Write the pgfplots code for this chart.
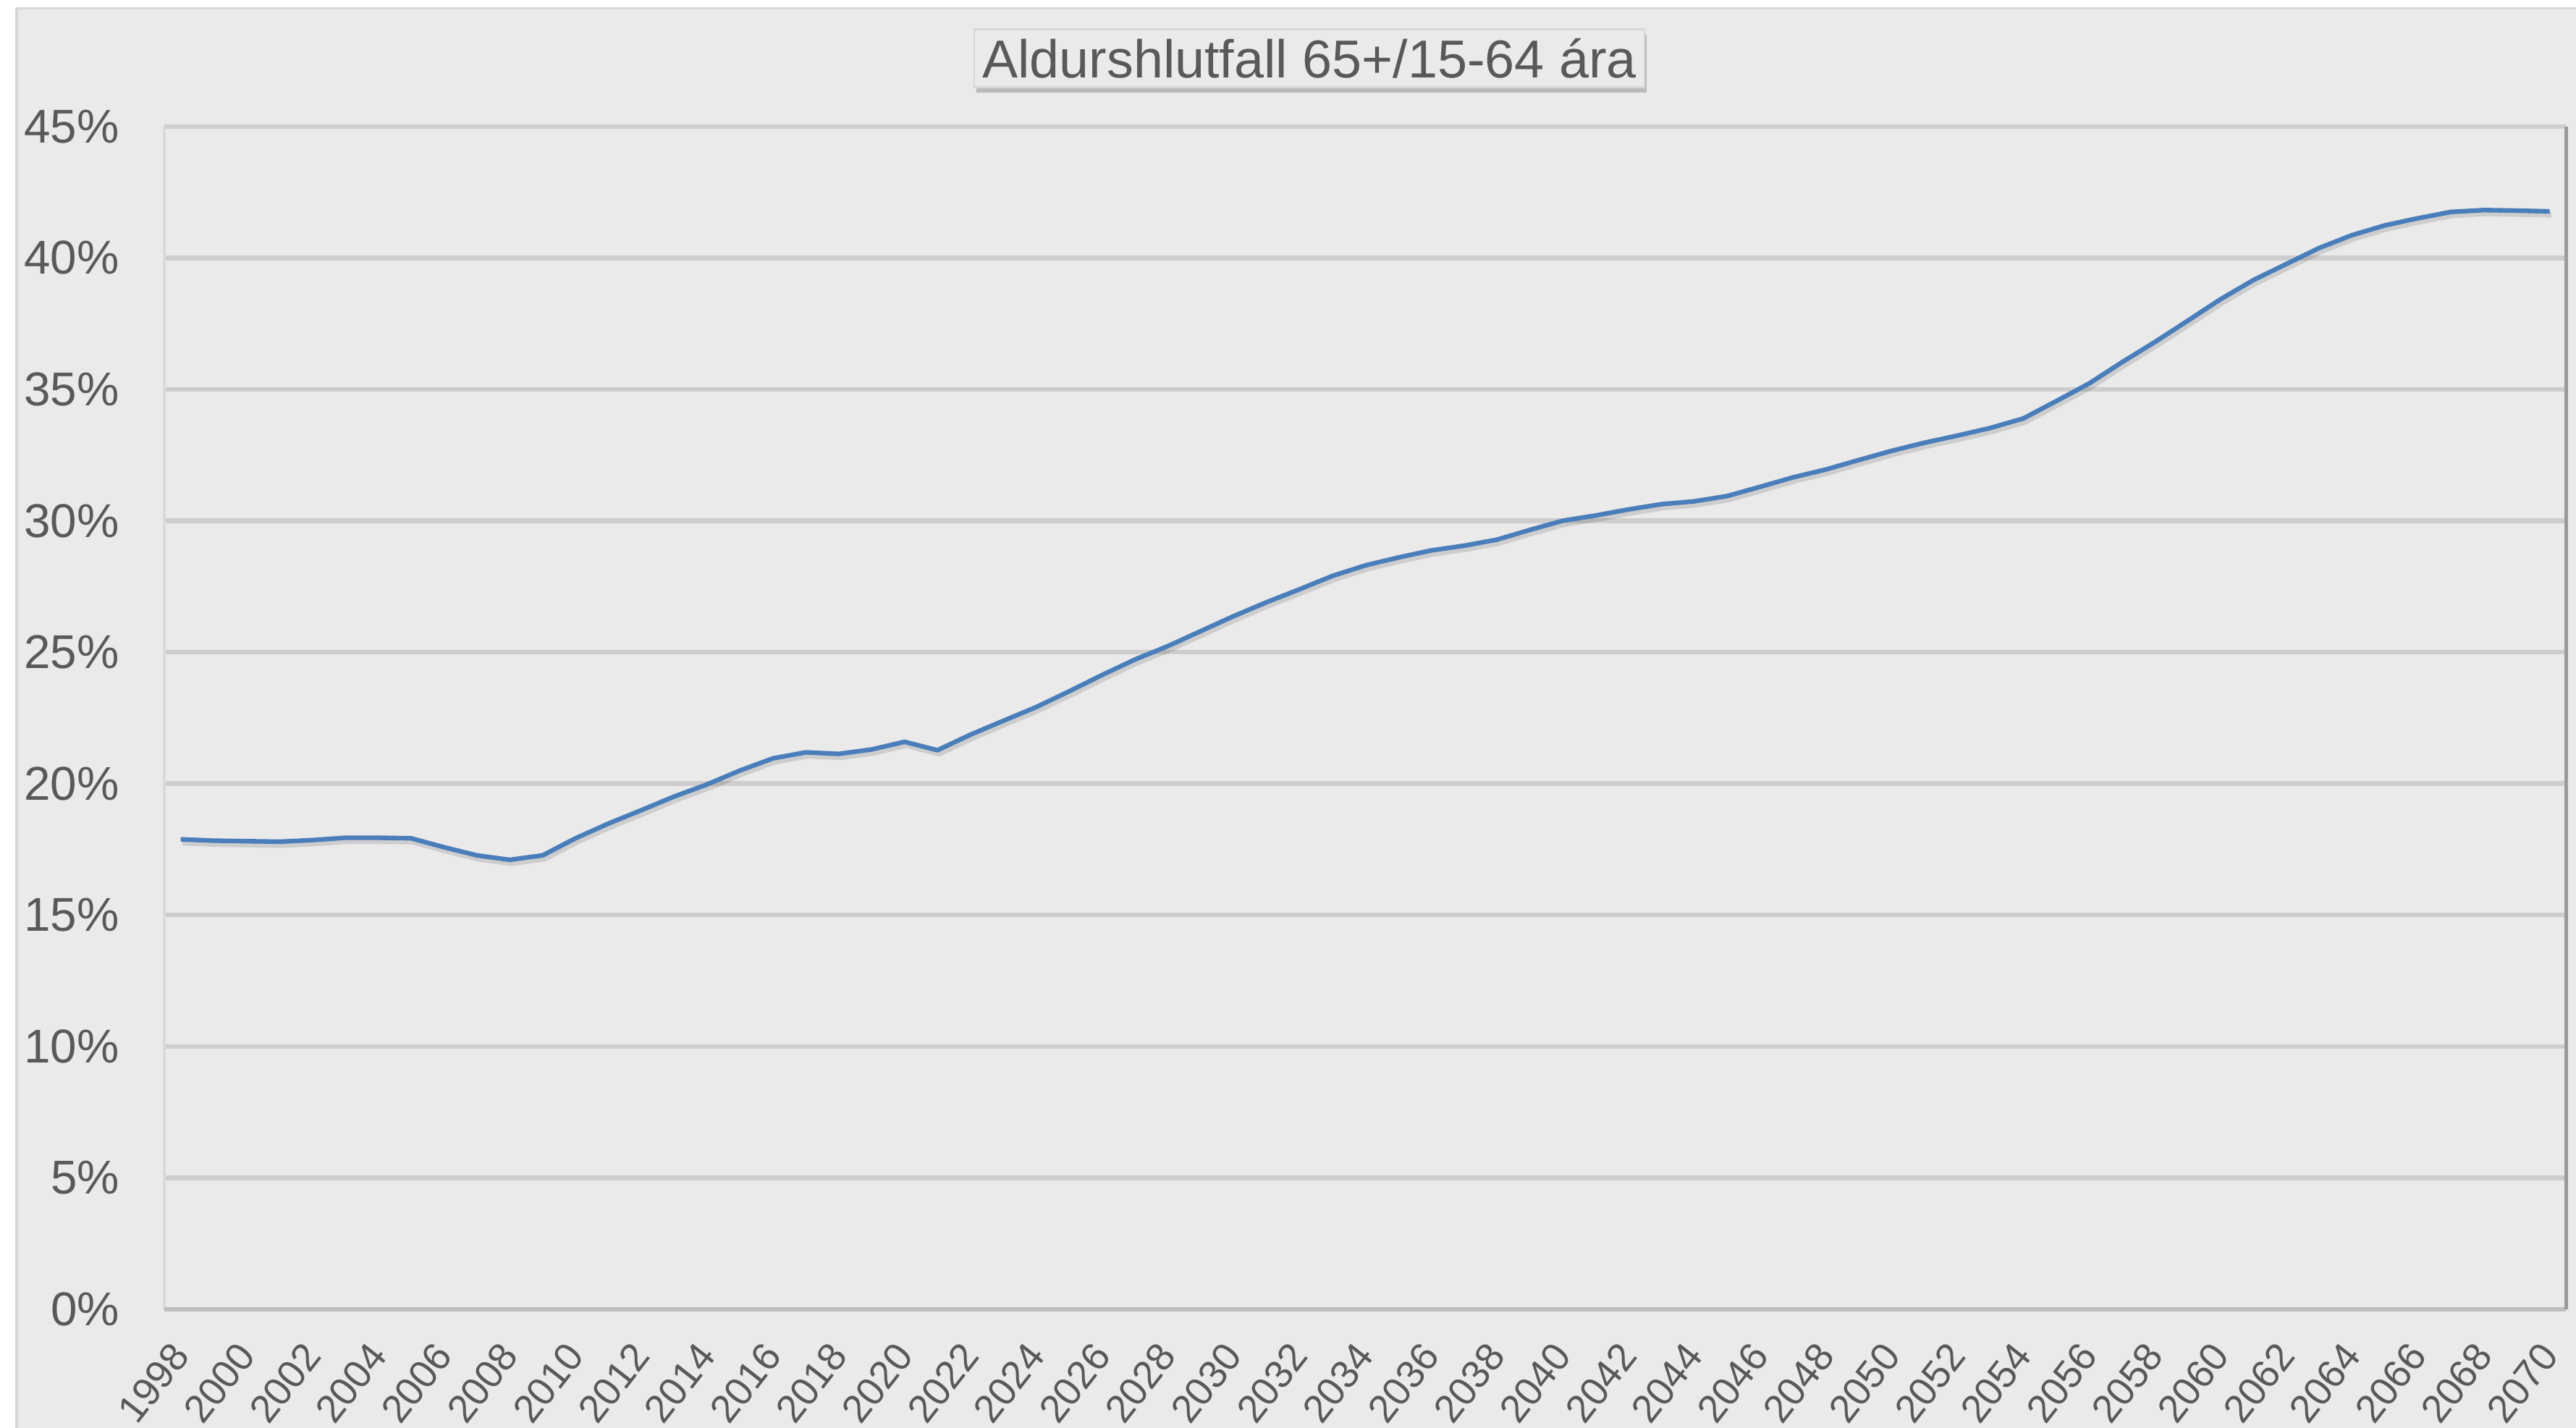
\documentclass[border=0pt]{standalone}
\usepackage{fontspec}
\setmainfont{Liberation Sans}
\usepackage{pgfplots}
\pgfplotsset{compat=1.18}
\usepackage{pgfplotstable}
\usetikzlibrary{shadows}
\definecolor{bg}{HTML}{EAEAEA}
\definecolor{edge}{HTML}{D6D6D6}
\definecolor{textgray}{HTML}{595959}
\definecolor{gridc}{HTML}{CDCDCD}
\definecolor{axisgray}{HTML}{BDBDBD}
\definecolor{rightgray}{HTML}{9A9A9A}
\definecolor{lineblue}{HTML}{4A7EBB}

\pgfplotstableread{
year val
1998 17.88
1999 17.83
2000 17.81
2001 17.79
2002 17.85
2003 17.94
2004 17.94
2005 17.92
2006 17.58
2007 17.27
2008 17.10
2009 17.27
2010 17.92
2011 18.48
2012 18.99
2013 19.51
2014 19.97
2015 20.50
2016 20.96
2017 21.19
2018 21.13
2019 21.30
2020 21.59
2021 21.27
2022 21.86
2023 22.39
2024 22.91
2025 23.51
2026 24.13
2027 24.72
2028 25.23
2029 25.80
2030 26.37
2031 26.90
2032 27.39
2033 27.90
2034 28.30
2035 28.60
2036 28.87
2037 29.05
2038 29.28
2039 29.65
2040 30.00
2041 30.20
2042 30.43
2043 30.63
2044 30.74
2045 30.94
2046 31.29
2047 31.65
2048 31.95
2049 32.31
2050 32.66
2051 32.97
2052 33.24
2053 33.53
2054 33.89
2055 34.55
2056 35.22
2057 36.03
2058 36.80
2059 37.61
2060 38.43
2061 39.16
2062 39.77
2063 40.38
2064 40.87
2065 41.24
2066 41.51
2067 41.75
2068 41.82
2069 41.80
2070 41.77
}\datatable

\begin{document}
\begin{tikzpicture}
\useasboundingbox (0,0) rectangle (784bp,434.5bp);
\fill[white] (0,0) rectangle (784bp,434.5bp);
\filldraw[fill=bg, draw=edge, line width=0.8bp] (5bp,-1bp) rectangle (785bp,432bp);
\begin{axis}[
  at={(50bp,36bp)}, anchor=south west,
  scale only axis, width=731bp, height=360bp,
  xmin=1997.5, xmax=2070.5, ymin=0, ymax=45,
  clip=false,
  axis line style={draw=none},
  tick style={draw=none},
  ytick={0,5,...,45},
  yticklabel={\pgfmathprintnumber{\tick}\%},
  xtick={1998,2000,...,2070},
  /pgf/number format/1000 sep={},
  /pgf/number format/assume math mode=true,
  ymajorgrids,
  major grid style={draw=gridc, line width=1.4bp},
  yticklabel style={font=\fontsize{14.5}{16}\selectfont, text=textgray, anchor=east, inner sep=0pt},
  yticklabel shift=13.5bp,
  xticklabel style={font=\fontsize{12}{14}\selectfont, text=textgray, xshift=0bp, rotate=52, anchor=east, inner sep=0pt},
  xticklabel shift=11.8bp,
]
\draw[color=edge!80!bg, line width=0.8bp] (rel axis cs:0,0) -- (rel axis cs:0,1);
\draw[color=axisgray, line width=1.2bp] (rel axis cs:0,0) -- (rel axis cs:1,0);
\draw[color=rightgray, line width=1bp] (rel axis cs:1,0) -- (rel axis cs:1,1);
\addplot[color=black, opacity=0.12, line width=1.8bp, xshift=0.5bp, yshift=-1bp, forget plot] table[x=year, y=val]{\datatable};
\addplot[color=lineblue, line width=1.4bp, line join=round] table[x=year, y=val]{\datatable};
\end{axis}
\node[fill=bg, draw=edge, line width=0.6bp, minimum width=204bp, minimum height=17.5bp, inner sep=0pt,
      drop shadow={shadow xshift=0.6bp, shadow yshift=-1.6bp, opacity=0.45},
      font=\fontsize{16.3}{18}\selectfont, text=textgray] at (398.5bp,416.75bp) {Aldurshlutfall 65+/15-64 ára};
\end{tikzpicture}
\end{document}
